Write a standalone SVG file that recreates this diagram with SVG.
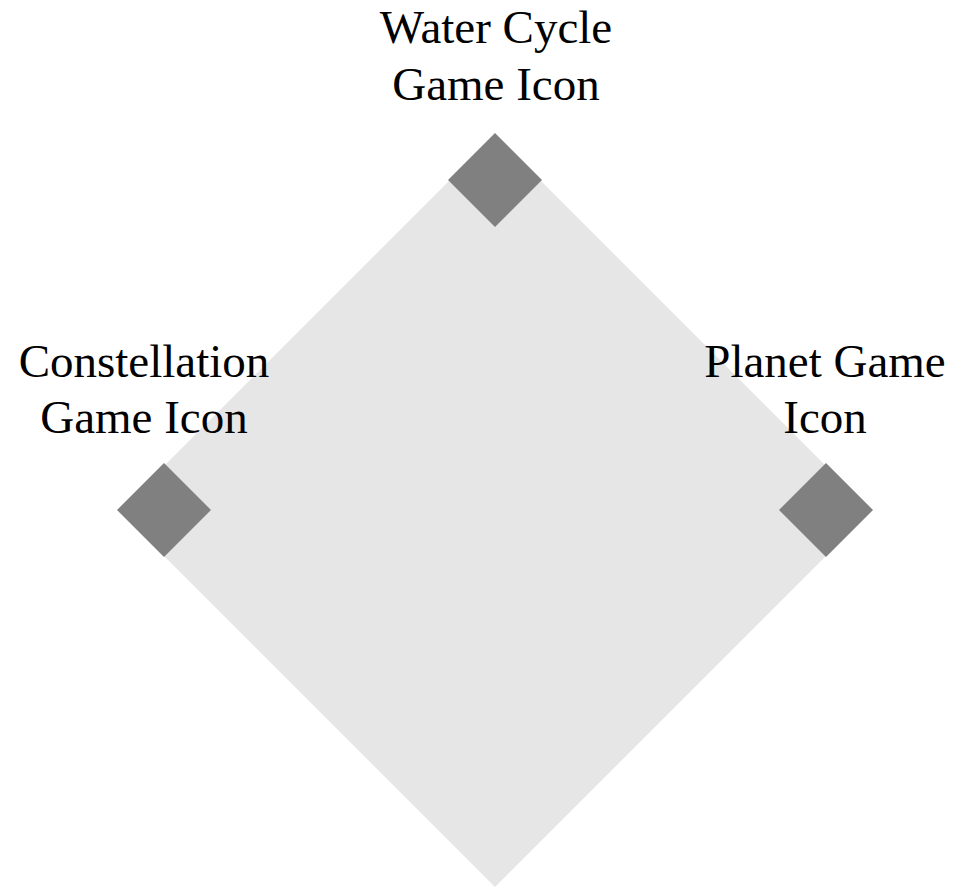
<svg xmlns="http://www.w3.org/2000/svg" width="953" height="888" viewBox="0 0 953 888">
  <style>
    .field { fill: #e6e6e6; }
    .icon { fill: #808080; }
    .label { font-family: "Liberation Serif", "Times New Roman", serif; font-size: 47px; fill: #000; text-anchor: middle; }
  </style>
  <rect width="953" height="888" fill="#ffffff"/>
  <g id="board">
    <polygon class="field" points="495,135 871,511 495,887 119,511"/>
  </g>
  <g id="water-cycle-game-icon">
    <polygon class="icon" points="495,133 542,180 495,227 448,180"/>
    <text class="label" x="496" y="43">Water Cycle</text>
    <text class="label" x="496" y="100">Game Icon</text>
  </g>
  <g id="constellation-game-icon">
    <polygon class="icon" points="164,463 211,510 164,557 117,510"/>
    <text class="label" x="144" y="377">Constellation</text>
    <text class="label" x="144" y="433">Game Icon</text>
  </g>
  <g id="planet-game-icon">
    <polygon class="icon" points="826,463 873,510 826,557 779,510"/>
    <text class="label" x="825" y="377">Planet Game</text>
    <text class="label" x="825" y="433">Icon</text>
  </g>
</svg>
